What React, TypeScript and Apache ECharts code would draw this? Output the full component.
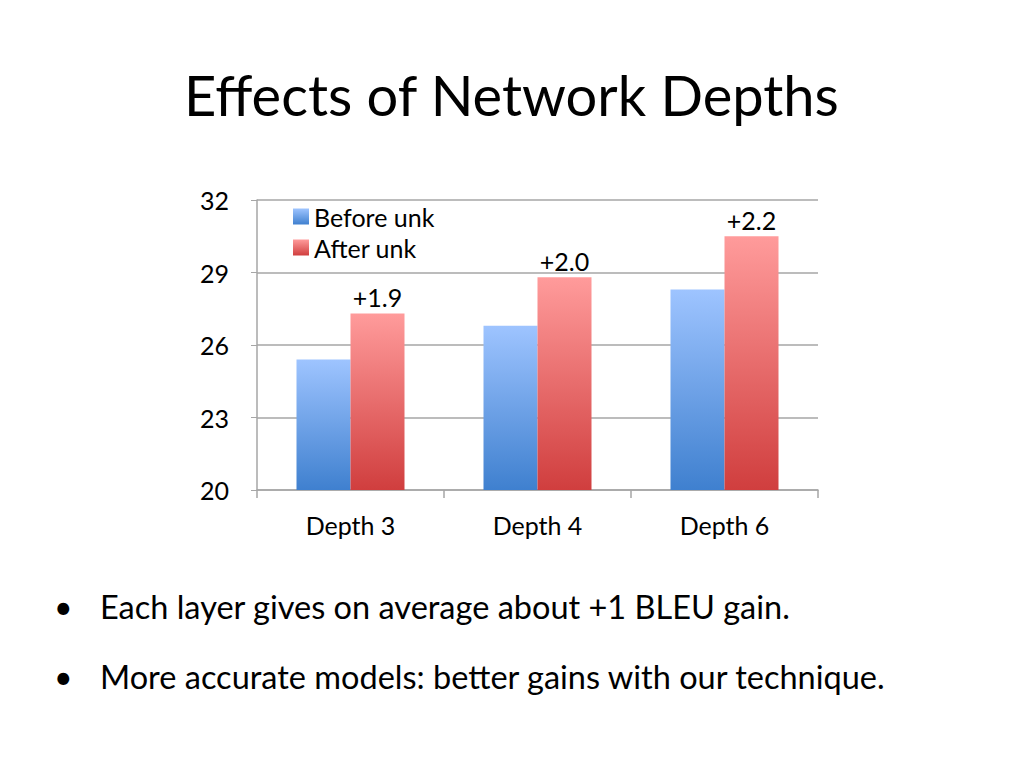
import React, { useEffect, useRef } from "react";
import * as echarts from "echarts";

const categories = ["Depth 3", "Depth 4", "Depth 6"];
const beforeUnk = [25.4, 26.8, 28.3];
const afterUnk = [27.3, 28.8, 30.5];
const gains = ["+1.9", "+2.0", "+2.2"];
const yTicks = [20, 23, 26, 29, 32];
const bullets = [
  "Each layer gives on average about +1 BLEU gain.",
  "More accurate models: better gains with our technique.",
];

const FONT = "Lato, 'Open Sans', sans-serif";

export default function App() {
  const ref = useRef<HTMLDivElement>(null);
  useEffect(() => {
    if (!ref.current) return;
    const chart = echarts.init(ref.current, null, { renderer: "svg" });
    const blue = new echarts.graphic.LinearGradient(0, 0, 0, 1, [
      { offset: 0, color: "#9EC4FF" },
      { offset: 1, color: "#3F80CF" },
    ]);
    const red = new echarts.graphic.LinearGradient(0, 0, 0, 1, [
      { offset: 0, color: "#FF9B9B" },
      { offset: 1, color: "#D03E3E" },
    ]);
    chart.setOption({
      animation: false,
      backgroundColor: "#ffffff",
      textStyle: { fontFamily: FONT },
      grid: { left: 257, right: 206, top: 200, bottom: 278, containLabel: false },
      legend: {
        orient: "vertical",
        left: 288,
        top: 199,
        itemWidth: 16,
        itemHeight: 16,
        itemGap: 6,
        icon: "rect",
        textStyle: { fontSize: 25, color: "#000", fontFamily: FONT, padding: [0, 0, 0, 0] },
        data: ["Before unk", "After unk"],
      },
      xAxis: {
        type: "category",
        data: categories,
        axisLine: { lineStyle: { color: "#A6A6A6", width: 1.5 } },
        axisTick: { show: true, length: 8, lineStyle: { color: "#A6A6A6", width: 1.5 } },
        axisLabel: { fontSize: 25, color: "#000", margin: 22, fontFamily: FONT },
      },
      yAxis: {
        type: "value",
        min: yTicks[0],
        max: yTicks[yTicks.length - 1],
        interval: 3,
        axisLine: { show: true, lineStyle: { color: "#A6A6A6", width: 1.5 } },
        axisTick: { show: true, length: 6, inside: false, lineStyle: { color: "#A6A6A6" } },
        splitLine: { lineStyle: { color: "#A6A6A6", width: 1.5 } },
        axisLabel: { fontSize: 25, color: "#000", margin: 28, fontFamily: FONT },
      },
      series: [
        {
          name: "Before unk",
          type: "bar",
          data: beforeUnk,
          barWidth: 54,
          barGap: "0%",
          itemStyle: { color: blue },
        },
        {
          name: "After unk",
          type: "bar",
          data: afterUnk,
          barWidth: 54,
          itemStyle: { color: red },
          label: {
            show: true,
            position: "top",
            distance: 4,
            fontSize: 25,
            color: "#000",
            fontFamily: FONT,
            formatter: (p: any) => gains[p.dataIndex],
          },
        },
      ],
      graphic: [
        {
          type: "text",
          left: "center",
          top: 66,
          style: { text: "Effects of Network Depths", fontSize: 56, fill: "#000", fontFamily: FONT },
        },
        ...bullets.map((b, i) => ({
          type: "group",
          left: 54,
          top: 590 + i * 70,
          children: [
            { type: "text", x: 0, y: 0, style: { text: "•", fontSize: 32, fill: "#000", fontFamily: FONT } },
            { type: "text", x: 46, y: 0, style: { text: b, fontSize: 32.5, fill: "#000", fontFamily: FONT } },
          ],
        })),
      ],
    });
    return () => chart.dispose();
  }, []);
  return (
    <div style={{ margin: -8 }}>
      <div ref={ref} style={{ width: 1024, height: 768 }} />
    </div>
  );
}
